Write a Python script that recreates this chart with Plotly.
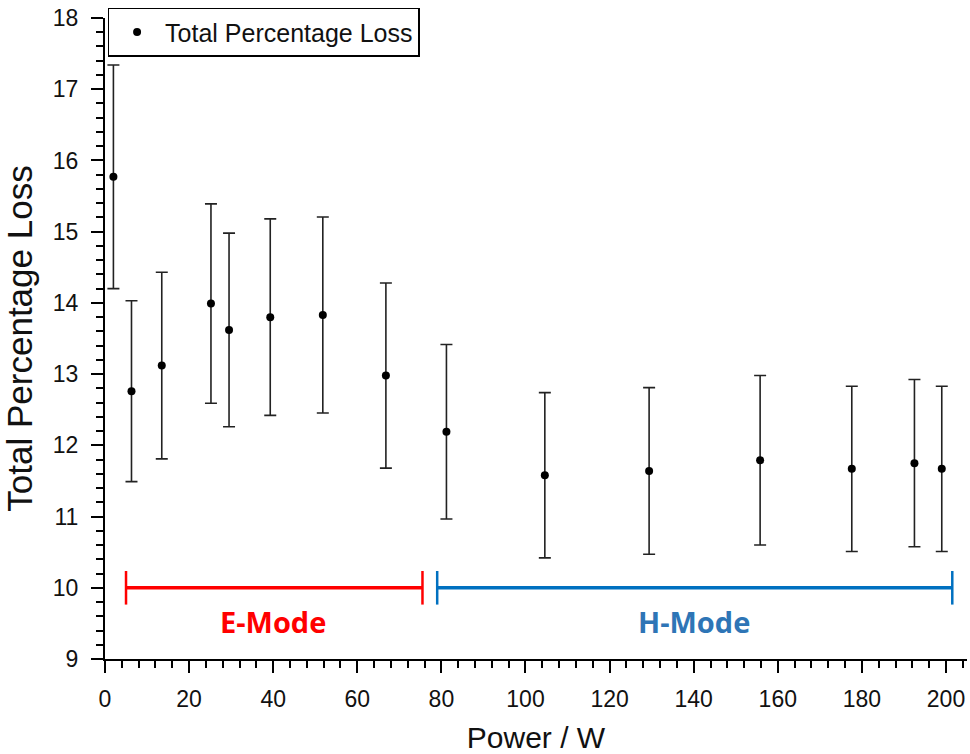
import plotly.graph_objects as go

# ---- data ----
power_w = [2.0, 6.3, 13.5, 25.2, 29.5, 39.3, 51.8, 66.8, 81.2, 104.6, 129.4, 155.8, 177.6, 192.5, 199.0]
total_loss = [15.77, 12.76, 13.12, 13.99, 13.62, 13.80, 13.83, 12.98, 12.19, 11.58, 11.64, 11.79, 11.67, 11.75, 11.67]
loss_err = [1.57, 1.27, 1.31, 1.40, 1.36, 1.38, 1.375, 1.30, 1.225, 1.16, 1.17, 1.19, 1.16, 1.175, 1.16]

e_mode_range = [5.0, 75.5]
h_mode_range = [79.0, 201.5]
bracket_level = 10.0
e_mode_label = ("E-Mode", 40.0, 9.53)
h_mode_label = ("H-Mode", 140.0, 9.53)

RED = "#FF0000"
BLUE_LINE = "#0070C0"
BLUE_TEXT = "#2E75B6"
AX_FONT = "Liberation Sans, Arial, sans-serif"

fig = go.Figure()

fig.add_trace(go.Scatter(
    x=power_w, y=total_loss, mode="markers",
    name="Total Percentage Loss",
    marker=dict(color="black", size=8, symbol="circle"),
    error_y=dict(type="data", array=loss_err, visible=True,
                 color="#222222", thickness=1.6, width=6),
))

for rng, col in [(e_mode_range, RED), (h_mode_range, BLUE_LINE)]:
    fig.add_trace(go.Scatter(
        x=rng, y=[bracket_level, bracket_level], mode="lines+markers",
        line=dict(color=col, width=3.5),
        marker=dict(symbol="line-ns", size=24, line=dict(color=col, width=2.5)),
        showlegend=False, hoverinfo="skip",
    ))

for (txt, xx, yy), col in [(e_mode_label, RED), (h_mode_label, BLUE_TEXT)]:
    fig.add_annotation(x=xx, y=yy, text=f"<b>{txt}</b>", showarrow=False,
                       font=dict(family="Open Sans, sans-serif", size=29, color=col),
                       xanchor="center", yanchor="middle")

axis_common = dict(
    showline=True, linecolor="black", linewidth=2,
    ticks="outside", ticklen=12, tickwidth=2, tickcolor="black",
    showgrid=False, zeroline=False, mirror=False,
    ticklabeloverflow="allow",
    tickfont=dict(family=AX_FONT, size=23, color="#111111"),
)

fig.update_xaxes(
    range=[0, 205], tick0=0, dtick=20,
    minor=dict(dtick=4, tick0=0, ticks="outside", ticklen=7, tickwidth=2, tickcolor="black"),
    title_text="Power / W", title_standoff=18, ticklabelstandoff=6,
    title_font=dict(family=AX_FONT, size=30, color="#111111"),
    **axis_common,
)
fig.update_yaxes(
    range=[9, 18], tick0=9, dtick=1,
    minor=dict(dtick=0.2, tick0=9, ticks="outside", ticklen=7, tickwidth=2, tickcolor="black"),
    title_text="Total Percentage Loss", title_standoff=12, ticklabelstandoff=8,
    title_font=dict(family=AX_FONT, size=35, color="#111111"),
    **axis_common,
)

fig.update_layout(
    width=970, height=754,
    margin=dict(l=105, r=3, t=18, b=95, autoexpand=False),
    plot_bgcolor="white", paper_bgcolor="white",
    showlegend=True,
    legend=dict(x=0.003, y=1.016, xanchor="left", yanchor="top",
                bordercolor="black", borderwidth=1.5, bgcolor="white",
                font=dict(family=AX_FONT, size=25, color="#111111"),
                itemwidth=46, tracegroupgap=0),
)

# remove the default 8px page margin so the 970x754 figure fills the window exactly
fig.write_html(
    "out.html",
    config={"displayModeBar": False},
    post_script="document.body.style.margin='0';document.body.style.overflow='hidden';",
)
